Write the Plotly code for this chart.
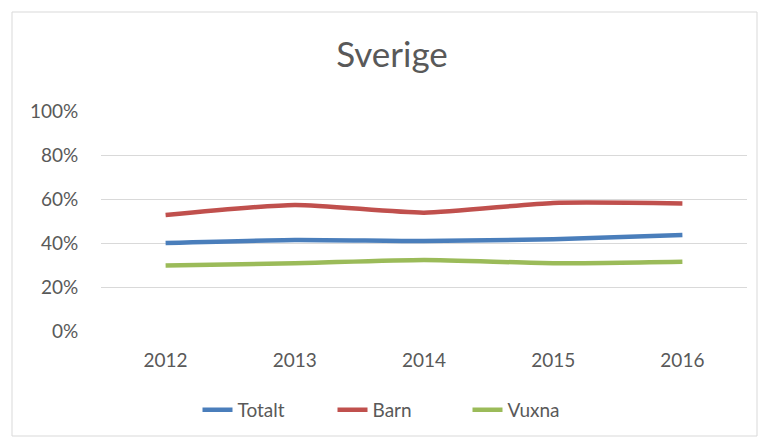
import plotly.graph_objects as go

years = ["2012", "2013", "2014", "2015", "2016"]
totalt = [0.40, 0.414, 0.409, 0.417, 0.436]
barn = [0.527, 0.573, 0.538, 0.582, 0.580]
vuxna = [0.298, 0.308, 0.323, 0.308, 0.315]

series = [("Totalt", totalt, "#4a7ebb"), ("Barn", barn, "#c0504d"), ("Vuxna", vuxna, "#9bbb59")]

OFF = 8  # page body margin
W, H = 767 - OFF, 445 - OFF
PL, PR, PT, PB = 101, 747, 111, 331  # plot area in page pixels
L, T = PL - OFF, PT - OFF
pw, ph = PR - PL, PB - PT
R, B = W - L - pw, H - T - ph

fig = go.Figure()
for name, vals, col in series:
    fig.add_trace(go.Scatter(x=years, y=vals, name=name, mode="lines",
                             line=dict(color=col, width=4.5, shape="spline", smoothing=0.6)))

def px(x):
    return (x - PL) / pw

def py(y):
    return (PB - y) / ph

fig.add_shape(type="rect", xref="paper", yref="paper",
              x0=px(12), x1=px(757), y0=py(436), y1=py(12),
              line=dict(color="#d9d9d9", width=1), fillcolor="rgba(0,0,0,0)", layer="below")

font = "Lato, 'Open Sans', sans-serif"
fig.update_layout(
    width=W, height=H,
    margin=dict(l=L, r=R, t=T, b=B),
    paper_bgcolor="white", plot_bgcolor="white",
    font=dict(family=font, color="#595959", size=19),
    title=dict(text="Sverige", x=(392 - OFF) / W, xanchor="center", y=1 - (55 - OFF) / H, yanchor="middle",
               font=dict(size=35, color="#595959", family=font)),
    showlegend=True,
    legend=dict(orientation="h", x=px(400), xanchor="center", y=py(410), yanchor="middle",
                font=dict(size=19, color="#595959"), entrywidth=90, entrywidthmode="pixels",
                traceorder="normal"),
    xaxis=dict(type="category", range=[-0.5, 4.5], showgrid=False, showline=False, zeroline=False,
               ticks="outside", ticklen=12, tickcolor="rgba(0,0,0,0)", tickfont=dict(size=19)),
    yaxis=dict(range=[0, 1], dtick=0.2, tickformat=".0%", showgrid=True, gridcolor="#d9d9d9",
               gridwidth=1, zeroline=False, showline=False,
               ticks="outside", ticklen=18, tickcolor="rgba(0,0,0,0)", tickfont=dict(size=19)),
)

fig.write_html("out.html")
